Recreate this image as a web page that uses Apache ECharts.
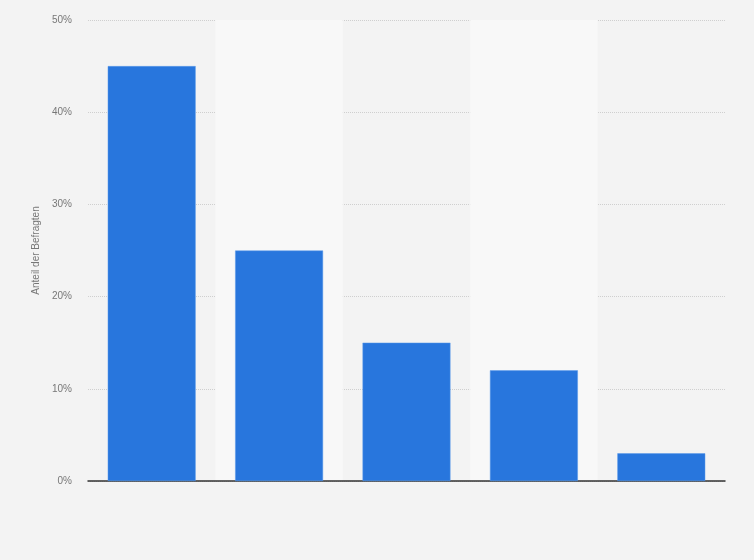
<!DOCTYPE html>
<html>
<head>
<meta charset="utf-8">
<script src="https://cdn.jsdelivr.net/npm/echarts@6/dist/echarts.min.js"></script>
<style>
html,body{margin:0;padding:0;background:#f3f3f3;}
#chart{width:754px;height:560px;}
</style>
</head>
<body>
<div id="chart"></div>
<script>
const categories = ['1', '2', '3', '4', '5'];
const values = [45, 25, 15, 12, 3];
const yTicks = [0, 10, 20, 30, 40, 50];

const chart = echarts.init(document.getElementById('chart'));
chart.setOption({
  backgroundColor: '#f3f3f3',
  animation: false,
  grid: { left: 88, right: 29, top: 20, bottom: 79, containLabel: false },
  xAxis: {
    type: 'category',
    data: categories,
    axisLine: { show: true, lineStyle: { color: '#333', width: 1.5 } },
    axisTick: { show: false },
    axisLabel: { show: false },
    splitArea: { show: true, areaStyle: { color: ['rgba(0,0,0,0)', '#f8f8f8'] } }
  },
  yAxis: {
    type: 'value',
    min: yTicks[0],
    max: yTicks[yTicks.length - 1],
    interval: 10,
    name: 'Anteil der Befragten',
    nameLocation: 'middle',
    nameGap: 42,
    nameTextStyle: { color: '#777', fontSize: 10, fontFamily: 'Arial, Liberation Sans, sans-serif' },
    axisLine: { show: false },
    axisTick: { show: false },
    axisLabel: { formatter: '{value}%', color: '#777', fontSize: 10, margin: 16, fontFamily: 'Arial, Liberation Sans, sans-serif' },
    splitLine: { show: true, lineStyle: { color: '#cfcfcf', type: 'dotted', width: 1 } }
  },
  series: [{
    type: 'bar',
    data: values,
    barWidth: '69%',
    itemStyle: { color: '#2876dd', borderColor: '#5b9aea', borderWidth: 0.5 }
  }]
});
</script>
</body>
</html>
